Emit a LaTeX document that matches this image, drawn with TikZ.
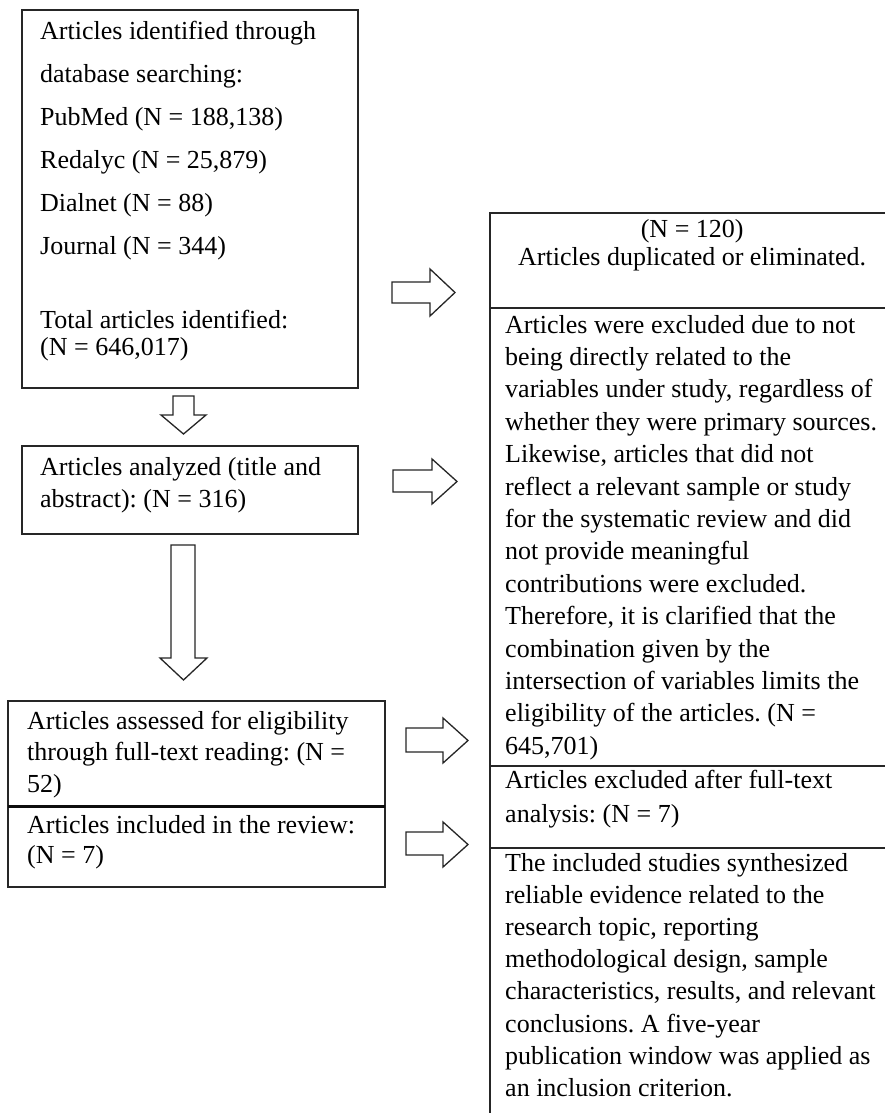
\documentclass[tikz,border=0pt]{standalone}
\usepackage{fontspec}
\setmainfont{Liberation Serif}
\frenchspacing
\newcommand\txtlines[2]{\vtop{\baselineskip=#1\lineskiplimit=-\maxdimen\lineskip=0pt #2}}
\newcommand\tl[1]{\hbox{#1}}
\begin{document}
\begin{tikzpicture}[x=1pt,y=-1pt]
\tikzset{
 box/.style={draw=black!85, line width=1.3pt, anchor=north west, inner sep=0pt, outer sep=0pt},
 txt/.style={anchor=base west, inner sep=0pt, font=\fontsize{26}{32}\selectfont\frenchspacing, text=black},
 barrow/.style={draw=black!85, line width=1.3pt, fill=white, line join=miter},
}
\useasboundingbox (0,0) rectangle (884,1113);
\fill[white] (0,0) rectangle (884,1113);

% left column boxes
\node[box, minimum width=336pt, minimum height=378pt] (b1) at (22,10) {};
\node[box, minimum width=336pt, minimum height=88pt] (b2) at (22,446) {};
\node[box, minimum width=377pt, minimum height=105pt] (b3) at (8,701) {};
\node[box, minimum width=377pt, minimum height=81pt] (b4) at (8,806) {};
\draw[draw=black!95, line width=3pt] (b3.south west) -- (b3.south east);

% right column boxes
\node[box, minimum width=410pt, minimum height=95pt] (rA) at (490,213) {};
\node[box, minimum width=410pt, minimum height=458pt] (rB) at (490,308) {};
\node[box, minimum width=410pt, minimum height=82pt] (rC) at (490,766) {};
\node[box, minimum width=410pt, minimum height=300pt] (rD) at (490,848) {};

% texts
\node[txt] (t1a) at (40,39.5) {\txtlines{43pt}{%
 \tl{Articles identified through}
 \tl{database searching:}
 \tl{PubMed (N = 188,138)}
 \tl{Redalyc (N = 25,879)}
 \tl{Dialnet (N = 88)}
 \tl{Journal (N = 344)}}};
\node[txt] (t1b) at (40,328) {\txtlines{27pt}{%
 \tl{Total articles identified:}
 \tl{(N = 646,017)}}};
\node[txt] (t2) at (40,475) {\txtlines{32.5pt}{%
 \tl{Articles analyzed (title and}
 \tl{abstract): (N = 316)}}};
\node[txt] (t3) at (27,729) {\txtlines{31.5pt}{%
 \tl{Articles assessed for eligibility}
 \tl{through full-text reading: (N =}
 \tl{52)}}};
\node[txt] (t4) at (27,833) {\txtlines{30pt}{%
 \tl{Articles included in the review:}
 \tl{(N = 7)}}};

\node[txt] (tA) at (490,237) {\txtlines{28pt}{%
 \hbox to 404pt{\hfil (N = 120)\hfil}
 \hbox to 404pt{\hfil Articles duplicated or eliminated.\hfil}}};
\node[txt] (tB) at (505,333) {\txtlines{32.4pt}{%
 \tl{Articles were excluded due to not}
 \tl{being directly related to the}
 \tl{variables under study, regardless of}
 \tl{whether they were primary sources.}
 \tl{Likewise, articles that did not}
 \tl{reflect a relevant sample or study}
 \tl{for the systematic review and did}
 \tl{not provide meaningful}
 \tl{contributions were excluded.}
 \tl{Therefore, it is clarified that the}
 \tl{combination given by the}
 \tl{intersection of variables limits the}
 \tl{eligibility of the articles. (N =}
 \tl{645,701)}}};
\node[txt] (tC) at (505,788) {\txtlines{34pt}{%
 \tl{Articles excluded after full-text}
 \tl{analysis: (N = 7)}}};
\node[txt] (tD) at (505,871) {\txtlines{32.2pt}{%
 \tl{The included studies synthesized}
 \tl{reliable evidence related to the}
 \tl{research topic, reporting}
 \tl{methodological design, sample}
 \tl{characteristics, results, and relevant}
 \tl{conclusions. A five-year}
 \tl{publication window was applied as}
 \tl{an inclusion criterion.}}};

% down arrows
\draw[barrow] (173,396) -- (194,396) -- (194,415) -- (206,415) -- (183.5,434)
  -- (161,415) -- (173,415) -- cycle;
\draw[barrow] (171,545) -- (195,545) -- (195,658) -- (207,658) -- (183.5,680)
  -- (160,658) -- (171,658) -- cycle;

% right arrows
\draw[barrow] (392,282) -- (430,282) -- (430,269) -- (455,292.5) -- (430,316)
  -- (430,303) -- (392,303) -- cycle;
\draw[barrow] (393,470) -- (432,470) -- (432,459) -- (457,481.5) -- (432,504)
  -- (432,492) -- (393,492) -- cycle;
\draw[barrow] (406,728) -- (443,728) -- (443,718) -- (468,740.5) -- (443,763)
  -- (443,752) -- (406,752) -- cycle;
\draw[barrow] (406,832) -- (443,832) -- (443,822) -- (468,844.5) -- (443,867)
  -- (443,855) -- (406,855) -- cycle;
\end{tikzpicture}
\end{document}
